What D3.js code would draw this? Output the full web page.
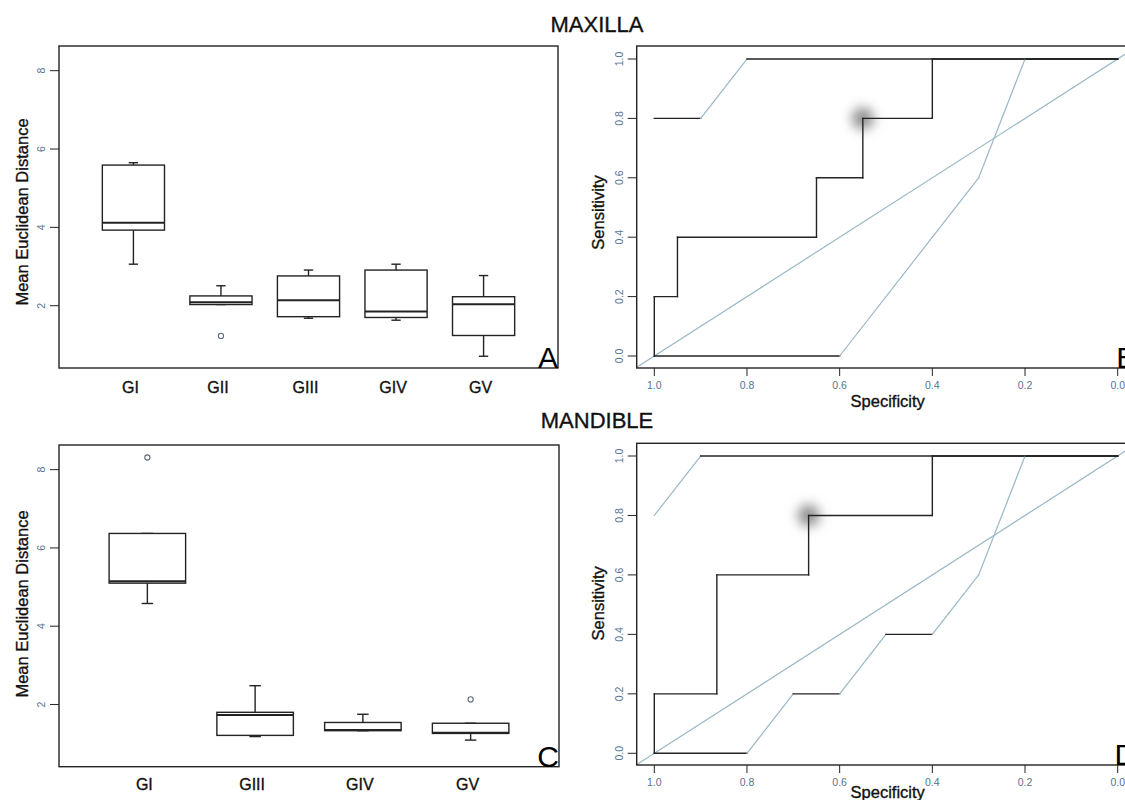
<!DOCTYPE html>
<html>
<head>
<meta charset="utf-8">
<script src="https://cdn.jsdelivr.net/npm/d3@7"></script>
<style>
  body { margin: 0; background: #fff; }
  svg { display: block; }
  text { font-family: "Liberation Sans", Arial, Helvetica, sans-serif; }
  .heavy { stroke: #111; stroke-width: 0.35px; }
</style>
</head>
<body>
<svg id="fig" width="1125" height="800"></svg>
<script>
// ---- Maxilla: mean Euclidean distance per group (box plot summaries) ----
const maxillaGroups = ["GI", "GII", "GIII", "GIV", "GV"];
const maxillaLowWhisker  = [3.06, 2.03, 1.68, 1.63, 0.71];
const maxillaQ1          = [3.93, 2.03, 1.72, 1.70, 1.24];
const maxillaMedian      = [4.12, 2.09, 2.14, 1.85, 2.04];
const maxillaQ3          = [5.59, 2.25, 2.76, 2.91, 2.23];
const maxillaHighWhisker = [5.65, 2.51, 2.91, 3.06, 2.77];
const maxillaOutliers    = [[], [1.23], [], [], []];

// ---- Mandible: mean Euclidean distance per group ----
const mandibleGroups = ["GI", "GIII", "GIV", "GV"];
const mandibleLowWhisker  = [4.58, 1.18, 1.33, 1.09];
const mandibleQ1          = [5.10, 1.21, 1.33, 1.26];
const mandibleMedian      = [5.15, 1.73, 1.35, 1.28];
const mandibleQ3          = [6.37, 1.80, 1.54, 1.52];
const mandibleHighWhisker = [6.37, 2.48, 1.75, 1.52];
const mandibleOutliers    = [[8.31], [], [], [2.13]];

const distanceTicks = [2, 4, 6, 8];

// ---- ROC curves (specificity, sensitivity) ----
const maxillaRocSpec = [
  [1, 1, 0.95, 0.95, 0.65, 0.65, 0.55, 0.55, 0.40, 0.40, 0],
  [1, 0.9, 0.8, 0],
  [1, 0.6, 0.4, 0.3, 0.2, 0]
];
const maxillaRocSens = [
  [0, 0.2, 0.2, 0.4, 0.4, 0.6, 0.6, 0.8, 0.8, 1, 1],
  [0.8, 0.8, 1, 1],
  [0, 0, 0.4, 0.6, 1, 1]
];
const maxillaBestPoint = [0.55, 0.8];

const mandibleRocSpec = [
  [1, 1, 0.865, 0.865, 0.667, 0.667, 0.40, 0.40, 0],
  [1, 0.9, 0],
  [1, 0.8, 0.7, 0.6, 0.5, 0.4, 0.3, 0.2, 0]
];
const mandibleRocSens = [
  [0, 0.2, 0.2, 0.6, 0.6, 0.8, 0.8, 1, 1],
  [0.8, 1, 1],
  [0, 0, 0.2, 0.2, 0.4, 0.4, 0.6, 1, 1]
];
const mandibleBestPoint = [0.667, 0.8];

const rocTicks = [0, 0.2, 0.4, 0.6, 0.8, 1.0];

// ---- drawing ----
const svg = d3.select("#fig");
svg.append("rect").attr("width", 1125).attr("height", 800).attr("fill", "#fff");

const INK = "#232323";
const SOFT = "#9ab8c6";       // thin sloped strokes
const TICKTXT = "#557391";

const defs = svg.append("defs");
const blur = defs.append("filter").attr("id", "soft").attr("x", "-100%").attr("y", "-100%")
  .attr("width", "300%").attr("height", "300%");
blur.append("feGaussianBlur").attr("stdDeviation", 6);

function frame(g, x0, x1, y0, y1) {
  g.append("rect").attr("x", x0).attr("y", y0)
    .attr("width", x1 - x0).attr("height", y1 - y0)
    .attr("fill", "none").attr("stroke", INK).attr("stroke-width", 1.4);
}

function yTicks(g, y, ticks, x0, fmt) {
  ticks.forEach(t => {
    g.append("line").attr("x1", x0 - 9).attr("x2", x0)
      .attr("y1", y(t)).attr("y2", y(t)).attr("stroke", INK).attr("stroke-width", 1);
    g.append("text").attr("transform", `translate(${x0 - 18},${y(t)}) rotate(-90)`)
      .attr("text-anchor", "middle").attr("dominant-baseline", "central")
      .attr("font-size", 10.5).attr("fill", TICKTXT).text(fmt(t));
  });
}

function boxPanel(cfg) {
  const g = svg.append("g");
  const x = d3.scaleLinear().domain(cfg.xDomain).range([cfg.x0, cfg.x1]);
  const y = d3.scaleLinear().domain([0.41, 8.63]).range([cfg.y1, cfg.y0]);
  const boxW = x(1.71) - x(1);
  const capW = boxW * 0.15;

  cfg.groups.forEach((name, i) => {
    const cx = x(i + 1);
    const line = (xa, xb, ya, yb, w) => g.append("line")
      .attr("x1", xa).attr("x2", xb).attr("y1", ya).attr("y2", yb)
      .attr("stroke", INK).attr("stroke-width", w || 1.4);
    // whiskers + staples
    line(cx, cx, y(cfg.q3[i]), y(cfg.hi[i]));
    line(cx, cx, y(cfg.q1[i]), y(cfg.lo[i]));
    line(cx - capW / 2, cx + capW / 2, y(cfg.hi[i]), y(cfg.hi[i]));
    line(cx - capW / 2, cx + capW / 2, y(cfg.lo[i]), y(cfg.lo[i]));
    // box
    g.append("rect").attr("x", cx - boxW / 2).attr("y", y(cfg.q3[i]))
      .attr("width", boxW).attr("height", y(cfg.q1[i]) - y(cfg.q3[i]))
      .attr("fill", "#fff").attr("stroke", INK).attr("stroke-width", 1.4);
    line(cx - boxW / 2, cx + boxW / 2, y(cfg.med[i]), y(cfg.med[i]), 2);
    // outliers
    cfg.out[i].forEach(v => g.append("circle").attr("cx", cx).attr("cy", y(v)).attr("r", 2.6)
      .attr("fill", "none").attr("stroke", "#5b6b78").attr("stroke-width", 1.1));
    // group label
    g.append("text").attr("class", "heavy").attr("x", cx - 3).attr("y", cfg.labelY)
      .attr("text-anchor", "middle").attr("font-size", 16).attr("fill", "#111").text(name);
  });

  frame(g, cfg.x0, cfg.x1, cfg.y0, cfg.y1);
  yTicks(g, y, distanceTicks, cfg.x0, d3.format("d"));

  g.append("text").attr("class", "heavy").attr("transform", `translate(28,${cfg.titleY}) rotate(-90)`)
    .attr("text-anchor", "middle").attr("font-size", 16.5).attr("fill", "#111")
    .text("Mean Euclidean Distance");
  g.append("text").attr("x", cfg.x1).attr("y", cfg.y1).attr("text-anchor", "end")
    .attr("font-size", 30).attr("fill", "#000").text(cfg.letter);
}

function rocPanel(cfg) {
  const g = svg.append("g");
  const x = d3.scaleLinear().domain([1, 0]).range([654.3, 1117.7]);
  const y = d3.scaleLinear().domain([0, 1]).range([cfg.yZero, cfg.yOne]);
  const x0 = x(1.038), x1 = x(-0.04);

  const clipId = "clip" + cfg.letter;
  defs.append("clipPath").attr("id", clipId).append("rect")
    .attr("x", x0).attr("y", cfg.y0).attr("width", x1 - x0).attr("height", cfg.y1 - cfg.y0);
  const plot = g.append("g").attr("clip-path", `url(#${clipId})`);

  // chance diagonal
  plot.append("line").attr("x1", x(1.05)).attr("y1", y(-0.05))
    .attr("x2", x(-0.05)).attr("y2", y(1.05))
    .attr("stroke", SOFT).attr("stroke-width", 1.2);

  // highlighted threshold
  plot.append("circle").attr("cx", x(cfg.best[0])).attr("cy", y(cfg.best[1])).attr("r", 11)
    .attr("fill", "#909090").attr("filter", "url(#soft)");

  cfg.spec.forEach((sp, c) => {
    const se = cfg.sens[c];
    for (let k = 1; k < sp.length; k++) {
      const straight = sp[k] === sp[k - 1] || se[k] === se[k - 1];
      plot.append("line")
        .attr("x1", x(sp[k - 1])).attr("y1", y(se[k - 1]))
        .attr("x2", x(sp[k])).attr("y2", y(se[k]))
        .attr("stroke", straight ? INK : SOFT)
        .attr("stroke-width", straight ? 1.4 : 1.2)
        .attr("stroke-linecap", "square");
    }
  });

  frame(g, x0, x1, cfg.y0, cfg.y1);
  yTicks(g, y, rocTicks, x0, d3.format(".1f"));
  rocTicks.forEach(t => {
    g.append("line").attr("x1", x(t)).attr("x2", x(t)).attr("y1", cfg.y1).attr("y2", cfg.y1 + 8)
      .attr("stroke", INK).attr("stroke-width", 1);
    g.append("text").attr("x", x(t)).attr("y", cfg.y1 + 21).attr("text-anchor", "middle")
      .attr("font-size", 10.5).attr("fill", TICKTXT).text(d3.format(".1f")(t));
  });

  g.append("text").attr("class", "heavy").attr("transform", `translate(604,${cfg.titleY}) rotate(-90)`)
    .attr("text-anchor", "middle").attr("font-size", 16.5).attr("fill", "#111").text("Sensitivity");
  g.append("text").attr("class", "heavy").attr("x", 887.7).attr("y", cfg.specY).attr("text-anchor", "middle")
    .attr("font-size", 16.5).attr("fill", "#111").text("Specificity");
  g.append("text").attr("x", x1).attr("y", cfg.y1).attr("text-anchor", "end")
    .attr("font-size", 30).attr("fill", "#000").text(cfg.letter);
}

// section titles
svg.append("text").attr("class", "heavy").attr("x", 597).attr("y", 31.5).attr("text-anchor", "middle")
  .attr("font-size", 22).attr("fill", "#111").text("MAXILLA");
svg.append("text").attr("class", "heavy").attr("x", 597).attr("y", 428.3).attr("text-anchor", "middle")
  .attr("font-size", 22).attr("fill", "#111").text("MANDIBLE");

boxPanel({
  groups: maxillaGroups, lo: maxillaLowWhisker, q1: maxillaQ1, med: maxillaMedian,
  q3: maxillaQ3, hi: maxillaHighWhisker, out: maxillaOutliers,
  xDomain: [0.15, 5.85], x0: 59, x1: 558, y0: 46, y1: 368,
  labelY: 393, titleY: 212, letter: "A"
});
boxPanel({
  groups: mandibleGroups, lo: mandibleLowWhisker, q1: mandibleQ1, med: mandibleMedian,
  q3: mandibleQ3, hi: mandibleHighWhisker, out: mandibleOutliers,
  xDomain: [0.18, 4.82], x0: 59, x1: 559, y0: 445, y1: 766.7,
  labelY: 790, titleY: 604, letter: "C"
});
rocPanel({
  spec: maxillaRocSpec, sens: maxillaRocSens, best: maxillaBestPoint,
  yZero: 356, yOne: 59, y0: 46, y1: 368, titleY: 212.5, specY: 407, letter: "B"
});
rocPanel({
  spec: mandibleRocSpec, sens: mandibleRocSens, best: mandibleBestPoint,
  yZero: 753.3, yOne: 456, y0: 443.3, y1: 765, titleY: 603.3, specY: 798, letter: "D"
});
</script>
</body>
</html>
